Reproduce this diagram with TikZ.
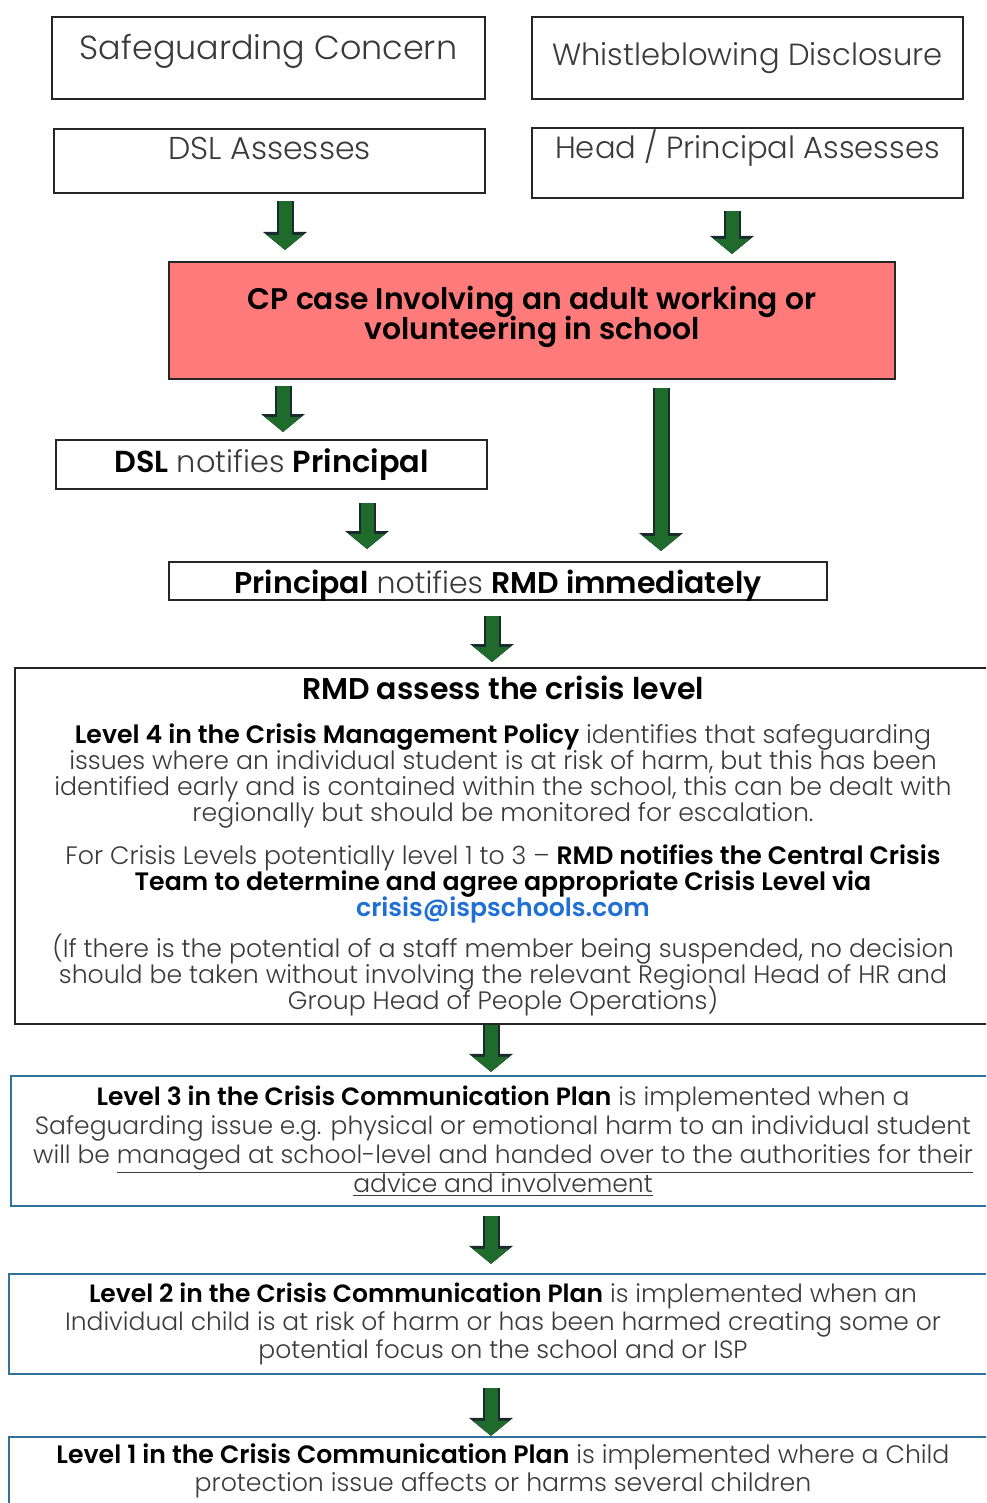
\documentclass[tikz,border=0pt]{standalone}
\usepackage{fontspec}
\setmainfont{Poppins}[UprightFont={* Light},BoldFont={* SemiBold}]
\usetikzlibrary{arrows.meta,calc}
\definecolor{boxline}{HTML}{262626}
\definecolor{blueline}{HTML}{31729A}
\definecolor{txt}{HTML}{3A3A3A}
\definecolor{casered}{HTML}{FF7A7A}
\definecolor{arrowgreen}{HTML}{1F6B2C}
\definecolor{arrowedge}{HTML}{1A2B30}
\definecolor{mailblue}{HTML}{1F6FD6}
\lineskiplimit=-100pt

\begin{document}
\begin{tikzpicture}[x=0.5pt,y=-0.5pt,
  box/.style={draw=boxline,line width=1pt,inner sep=1pt,align=center,text=txt},
  bluebox/.style={box,draw=blueline,line width=1.1pt},
  flow/.style={draw=arrowgreen,line width=6.5pt,shorten <=1pt,
    -{Triangle[length=7.5pt,width=17.5pt]},
    preaction={draw=arrowedge,line width=8.5pt,-{Triangle[length=9pt,width=21.5pt]}}}]
  \useasboundingbox (0,0) rectangle (986,1503);
  \clip (0,0) rectangle (986,1503);
  % top row
  \node[box,minimum width=216.5pt,minimum height=41pt,text depth=11pt,font=\fontsize{16.7}{18}\selectfont] (sgc) at (268.5,58) {Safeguarding Concern};
  \node[box,minimum width=215.5pt,minimum height=41pt,font=\fontsize{15.3}{16}\selectfont] (wbd) at (747.5,58) {Whistleblowing Disclosure};
  \node[box,minimum width=215.5pt,minimum height=32pt,text depth=13pt,font=\fontsize{15.8}{16}\selectfont] (dslA) at (269.5,161) {DSL Assesses};
  \node[box,minimum width=215.5pt,minimum height=32pt,text depth=19pt,font=\fontsize{15.3}{16}\selectfont] (headA) at (747.5,163) {Head / Principal Assesses};
  % red case box
  \node[box,fill=casered,text=black,minimum width=363pt,minimum height=58.5pt,text depth=8pt,font=\fontsize{14.9}{15}\selectfont\bfseries] (cpcase) at (532,320.5)
    {CP case Involving an adult working or\\volunteering in school};
  \node[box,minimum width=215.5pt,minimum height=24.5pt,font=\fontsize{15.2}{15}\selectfont] (dslN) at (271.5,464.5)
    {\textbf{\color{black}DSL} notifies \textbf{\color{black}Principal}};
  \node[box,minimum width=329pt,minimum height=19pt,inner sep=0pt,text height=15.5pt,text depth=3pt,font=\fontsize{15}{15}\selectfont] (princ) at (498,581)
    {\textbf{\color{black}Principal} notifies \textbf{\color{black}RMD immediately}};
  % RMD box
  \node[box,minimum width=488pt,minimum height=178pt,font=\fontsize{12.6}{13}\selectfont] (rmd) at (503,846)
    {{\fontsize{15}{13}\selectfont\bfseries\color{black}RMD assess the crisis level}\\[9pt]
     \textbf{\color{black}Level 4 in the Crisis Management Policy} identifies that safeguarding\\
     issues where an individual student is at risk of harm, but this has been\\
     identified early and is contained within the school, this can be dealt with\\
     regionally but should be monitored for escalation.\\[8.5pt]
     For Crisis Levels potentially level 1 to 3 -- \textbf{\color{black}RMD notifies the Central Crisis}\\
     \textbf{\color{black}Team to determine and agree appropriate Crisis Level via}\\
     \textbf{\color{mailblue}crisis@ispschools.com}\\[7.5pt]
     (If there is the potential of a staff member being suspended, no decision\\
     should be taken without involving the relevant Regional Head of HR and\\
     Group Head of People Operations)};
  % crisis levels
  \node[bluebox,minimum width=492pt,minimum height=65pt,font=\fontsize{12.5}{14.5}\selectfont] (lvl3) at (503,1141)
    {\textbf{\color{black}Level 3 in the Crisis Communication Plan} is implemented when a\\
     Safeguarding issue e.g. physical or emotional harm to an individual student\\
     will be \underline{managed at school-level and handed over to the authorities for their}\\
     \underline{advice and involvement}};
  \node[bluebox,minimum width=494pt,minimum height=50pt,font=\fontsize{12.5}{14}\selectfont] (lvl2) at (503,1324)
    {\textbf{\color{black}Level 2 in the Crisis Communication Plan} is implemented when an\\
     Individual child is at risk of harm or has been harmed creating some or\\
     potential focus on the school and or ISP};
  \node[bluebox,minimum width=494pt,minimum height=34pt,font=\fontsize{12.6}{14}\selectfont] (lvl1) at (503,1471)
    {\textbf{\color{black}Level 1 in the Crisis Communication Plan} is implemented where a Child\\
     protection issue affects or harms several children};
  % arrows
  \draw[flow] ($(dslA.south)+(15.5,5)$) -- ($(cpcase.north)+(-247,-11)$);
  \draw[flow] ($(headA.south)+(-15.5,10)$) -- ($(cpcase.north)+(200,-7)$);
  \draw[flow] ($(cpcase.south)+(-249,4)$) -- ($(dslN.north)+(11.5,-7)$);
  \draw[flow] ($(dslN.south)+(95.5,11)$) -- ($(princ.north)+(-131,-12)$);
  \draw[flow] ($(cpcase.south)+(129,6)$) -- ($(princ.north)+(163,-10)$);
  \draw[flow] ($(princ.south)+(-6,13)$) -- ($(rmd.north)+(-11,-5)$);
  \draw[flow] ($(rmd.south)+(-12,-2)$) -- ($(lvl3.north)+(-12,-3)$);
  \draw[flow] ($(lvl3.south)+(-12,7)$) -- ($(lvl2.north)+(-12,-9)$);
  \draw[flow] ($(lvl2.south)+(-12,11)$) -- ($(lvl1.north)+(-12,0)$);
\end{tikzpicture}
\end{document}
